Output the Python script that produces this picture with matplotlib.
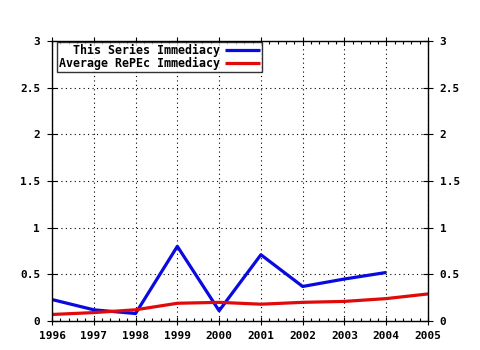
import matplotlib
matplotlib.use("Agg")
import matplotlib.pyplot as plt
from matplotlib.ticker import MultipleLocator

years = [1996, 1997, 1998, 1999, 2000, 2001, 2002, 2003, 2004, 2005]
series_years = [1996, 1997, 1998, 1999, 2000, 2001, 2002, 2003, 2004]
series_vals = [0.23, 0.12, 0.08, 0.80, 0.11, 0.71, 0.37, 0.45, 0.52]
avg_vals = [0.07, 0.09, 0.12, 0.19, 0.20, 0.18, 0.20, 0.21, 0.24, 0.29]
yticks = [0, 0.5, 1, 1.5, 2, 2.5, 3]
ytick_labels = ["0", "0.5", "1", "1.5", "2", "2.5", "3"]
labels = ["This Series Immediacy", "Average RePEc Immediacy"]

plt.rcParams['font.family'] = ['DejaVu Sans Mono']
plt.rcParams['font.weight'] = 'bold'

fig = plt.figure(figsize=(4.8, 3.5), dpi=100)
ax = fig.add_axes([52/480, 1-321/350, 376/480, 280/350])

ax.plot(series_years, series_vals, color='#0a0ae0', lw=2.3, label=labels[0], solid_capstyle='butt')
ax.plot(years, avg_vals, color='#e00a0a', lw=2.3, label=labels[1], solid_capstyle='butt')

ax.set_xlim(1996, 2005)
ax.set_ylim(0, 3)
ax.set_xticks(years)
ax.set_xticklabels([str(y) for y in years])
ax.xaxis.set_minor_locator(MultipleLocator(0.2))
ax.set_yticks(yticks)
ax.set_yticklabels(ytick_labels)

ax.grid(True, which='major', color='black', linestyle=(0, (1, 3)), lw=0.8)
for s in ax.spines.values():
    s.set_color('black')
    s.set_linewidth(1.0)

ax.tick_params(axis='y', which='major', direction='inout', length=7, width=0.8,
               left=True, right=True, labelleft=True, labelright=True, labelsize=8, pad=5)
ax.tick_params(axis='x', which='major', direction='inout', length=6, width=0.8,
               bottom=True, top=True, labelsize=8, pad=4)
ax.tick_params(axis='x', which='minor', direction='in', length=2, width=0.8,
               bottom=True, top=True)
for lbl in ax.get_xticklabels() + ax.get_yticklabels():
    lbl.set_fontweight('bold')
for lbl in ax.yaxis.get_ticklabels(which='major'):
    lbl.set_fontweight('bold')

leg = ax.legend(loc='upper left', bbox_to_anchor=(0.013, 0.997), borderaxespad=0,
                markerfirst=False, fancybox=False, frameon=True, handlelength=3.0,
                handletextpad=0.5, borderpad=0.15, labelspacing=0.05,
                prop={'family': 'DejaVu Sans Mono', 'weight': 'bold', 'size': 8.4})
leg.get_frame().set_edgecolor('black')
leg.get_frame().set_linewidth(1.0)
for t in leg.get_texts():
    t.set_ha('right')

fig.savefig("out.png", dpi=100)
